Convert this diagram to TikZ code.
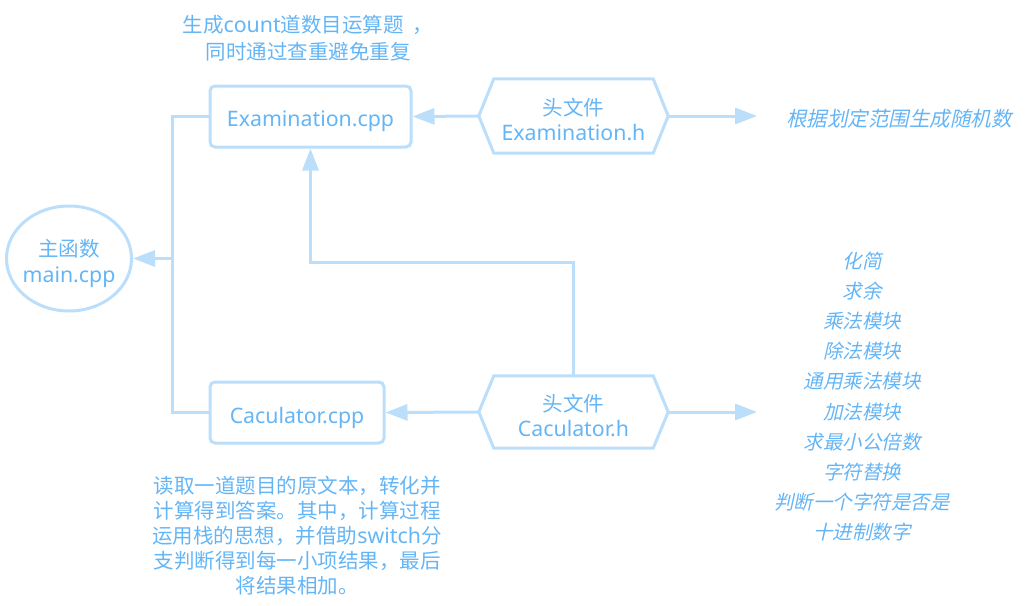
\documentclass[tikz,border=0pt]{standalone}
\usepackage{fontspec}
\setmainfont{Noto Sans CJK SC}
\newfontfamily\lat{Noto Sans}[Scale=1.04]
\newfontfamily\cjkit[FakeSlant=0.22]{Noto Sans CJK SC}
\usetikzlibrary{arrows.meta,shapes.geometric}
\definecolor{lineblue}{HTML}{BBDEFB}
\definecolor{textblue}{HTML}{64B5F6}
\tikzset{
  line/.style={draw=lineblue,line width=3pt},
  arr/.style={line,-{Triangle[length=22pt,width=16pt]}},
  box/.style={line,rounded corners=5pt,inner sep=0pt},
  txt/.style={inner sep=0pt,text=textblue,align=center,font=\fontsize{20.5}{25.5}\selectfont},
  note/.style={text=textblue,align=center,inner sep=0pt},
}
\newcommand{\hexdraw}[1]{%
  \draw[line,line join=miter] ([xshift=15pt]#1.north west) -- ([xshift=-15pt]#1.north east) -- (#1.east) -- ([xshift=-15pt]#1.south east) -- ([xshift=15pt]#1.south west) -- (#1.west) -- cycle;}
\begin{document}
\begin{tikzpicture}[x=1pt,y=-1pt]
\useasboundingbox (0,0) rectangle (1027,605);
% main ellipse
\node[ellipse,line,inner sep=0pt,minimum width=125pt,minimum height=105pt] (main) at (69,258.5) {};
\node[txt,font=\fontsize{20.5}{26}\selectfont] (maint) at ([yshift=-4.5pt]main.center) {主函数\\\lat main.cpp};
% cpp boxes
\node[box,minimum width=201pt,minimum height=61pt] (exam) at (310.5,116.5) {};
\node[txt] (examt) at ([yshift=-5pt]exam.center) {\lat Examination.cpp};
\node[box,minimum width=174pt,minimum height=61pt] (calc) at (297,412.5) {};
\node[txt] (calct) at ([yshift=-5pt]calc.center) {\lat Caculator.cpp};
% header hexagons
\node[minimum width=189pt,minimum height=74pt,inner sep=0pt] (eh) at (573.5,116) {};
\hexdraw{eh}
\node[txt] (eht) at ([yshift=-3.5pt]eh.center) {头文件\\\lat Examination.h};
\node[minimum width=189pt,minimum height=72pt,inner sep=0pt] (ch) at (573.5,412) {};
\hexdraw{ch}
\node[txt] (cht) at ([yshift=-3.5pt]ch.center) {头文件\\\lat Caculator.h};
% connectors to main
\coordinate (j) at (172,258.5);
\draw[line] (exam.west) -| (j) |- (calc.west);
\draw[arr] (j) -- (main.east);
% header to cpp
\draw[arr] (eh.west) -- (exam.east);
\draw[arr] (ch.west) -- (calc.east);
\coordinate (bend) at (310.5,262);
\draw[arr] (ch.north) |- (bend) -- (exam.south);
% right arrows
\coordinate (ehtip) at (757,116);
\coordinate (chtip) at (757,412);
\draw[arr] (eh.east) -- (ehtip);
\draw[arr] (ch.east) -- (chtip);
% notes
\node[note,font=\cjkit\fontsize{20.5}{26}\selectfont] (enote) at (899,118.5) {根据划定范围生成随机数};
\node[note,font=\cjkit\fontsize{19.5}{30.2}\selectfont] (cnote) at (862,396.5) {化简\\求余\\乘法模块\\除法模块\\通用乘法模块\\加法模块\\求最小公倍数\\字符替换\\判断一个字符是否是\\十进制数字};
\node[note,font=\fontsize{20.5}{27}\selectfont] (topnote) at (308,38.5) {生成{\lat count}道数目运算题\ \ ，\\同时通过查重避免重复};
\node[note,font=\fontsize{20.5}{25}\selectfont] (botnote) at (297,536) {读取一道题目的原文本，转化并\\计算得到答案。其中，计算过程\\运用栈的思想，并借助{\lat switch}分\\支判断得到每一小项结果，最后\\将结果相加。};
\end{tikzpicture}
\end{document}
